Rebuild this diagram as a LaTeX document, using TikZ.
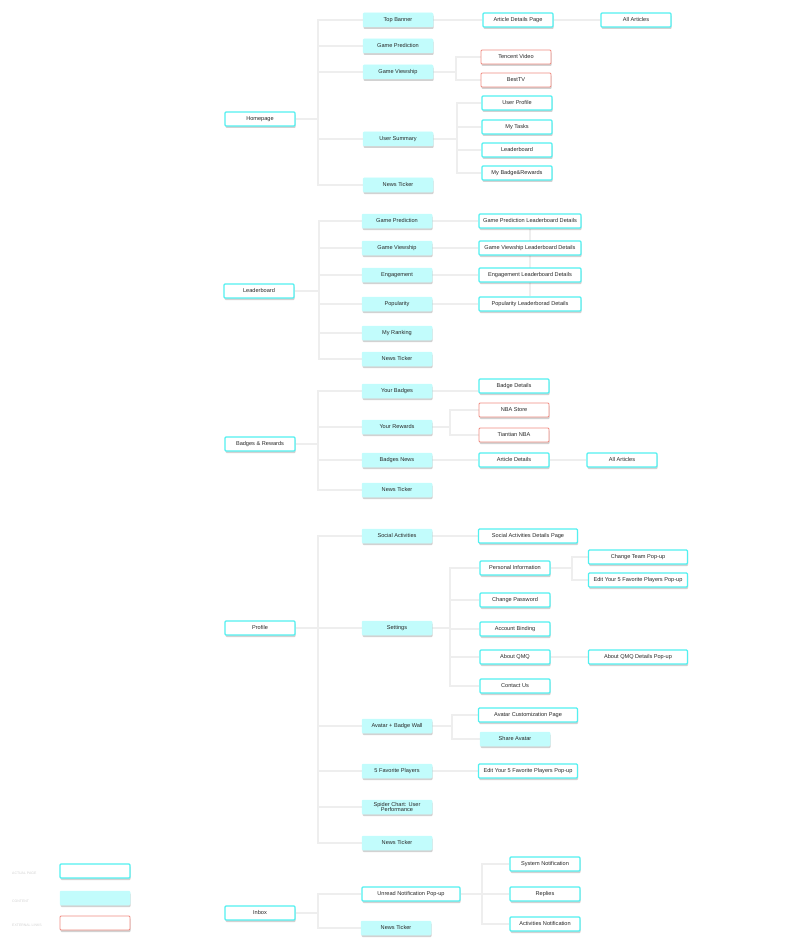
\documentclass[tikz,border=0pt]{standalone}
\usepackage{fontspec}
\setmainfont{Liberation Sans}
\usepackage{tikz}
\usetikzlibrary{positioning, calc, backgrounds, shadows}
\definecolor{pagecyan}{RGB}{82,240,240}
\definecolor{contentcyan}{RGB}{194,252,252}
\definecolor{extred}{RGB}{240,140,130}
\definecolor{linkgray}{RGB}{238,238,238}
\definecolor{txtgray}{RGB}{40,40,40}
\tikzset{
	basebox/.style={rounded corners=1pt, minimum height=14pt, minimum width=70pt, inner sep=1pt, text depth=0.6pt, font=\fontsize{5.6}{5.8}\selectfont, text=txtgray, align=center, drop shadow={shadow xshift=0.6pt, shadow yshift=-2pt, opacity=0.25, fill=black!70}},
	pagebox/.style={basebox, draw=pagecyan, line width=1.3pt, fill=white},
	contentbox/.style={basebox, draw=contentcyan, line width=0.5pt, fill=contentcyan},
	extbox/.style={basebox, draw=extred, line width=0.9pt, fill=white},
	linkline/.style={draw=linkgray, line width=2.2pt},
	legendtext/.style={font=\fontsize{3.5}{4}\selectfont, text=black!18, anchor=west, inner sep=0pt},
}

\begin{document}
\begin{tikzpicture}[x=1pt, y=-1pt]
	\useasboundingbox (0,0) rectangle (808,944);
	% Homepage branch
	\node[pagebox] (home) at (260,119) {Homepage};
	\node[contentbox] (hTop) at (398,20) {Top Banner};
	\node[contentbox] (hGP) at (398,46) {Game Prediction};
	\node[contentbox] (hGV) at (398,72) {Game Viewship};
	\node[contentbox] (hUS) at (398,139) {User Summary};
	\node[contentbox] (hNT) at (398,185) {News Ticker};
	\node[pagebox] (hADP) at (518,20) {Article Details Page};
	\node[pagebox] (hAll) at (636,20) {All Articles};
	\node[extbox] (hTen) at (516,57) {Tencent Video};
	\node[extbox] (hBest) at (516,80) {BestTV};
	\node[pagebox] (hUP) at (517,103) {User Profile};
	\node[pagebox] (hMT) at (517,127) {My Tasks};
	\node[pagebox] (hLB) at (517,150) {Leaderboard};
	\node[pagebox] (hMBR) at (517,173) {My Badge\&Rewards};
	% Leaderboard branch
	\node[pagebox] (lead) at (259,291) {Leaderboard};
	\node[contentbox] (lGP) at (397,221) {Game Prediction};
	\node[contentbox] (lGV) at (397,248) {Game Viewship};
	\node[contentbox] (lEng) at (397,275) {Engagement};
	\node[contentbox] (lPop) at (397,304) {Popularity};
	\node[contentbox] (lMR) at (397,333) {My Ranking};
	\node[contentbox] (lNT) at (397,359) {News Ticker};
	\node[pagebox, minimum width=102pt] (lGPD) at (530,221) {Game Prediction Leaderboard Details};
	\node[pagebox, minimum width=102pt] (lGVD) at (530,248) {Game Viewship Leaderboard Details};
	\node[pagebox, minimum width=102pt] (lEngD) at (530,275) {Engagement Leaderboard Details};
	\node[pagebox, minimum width=102pt] (lPopD) at (530,304) {Popularity Leaderborad Details};
	% Badges & Rewards branch
	\node[pagebox] (badge) at (260,444) {Badges \& Rewards};
	\node[contentbox] (bYB) at (397,391) {Your Badges};
	\node[contentbox] (bYR) at (397,427) {Your Rewards};
	\node[contentbox] (bBN) at (397,460) {Badges News};
	\node[contentbox] (bNT) at (397,490) {News Ticker};
	\node[pagebox] (bBD) at (514,386) {Badge Details};
	\node[extbox] (bStore) at (514,410) {NBA Store};
	\node[extbox] (bTian) at (514,435) {Tiantian NBA};
	\node[pagebox] (bAD) at (514,460) {Article Details};
	\node[pagebox] (bAll) at (622,460) {All Articles};
	% Profile branch
	\node[pagebox] (prof) at (260,628) {Profile};
	\node[contentbox] (pSA) at (397,536) {Social Activities};
	\node[contentbox] (pSet) at (397,628) {Settings};
	\node[contentbox] (pAv) at (397,726) {Avatar + Badge Wall};
	\node[contentbox] (pFav) at (397,771) {5 Favorite Players};
	\node[contentbox, text depth=0pt] (pSpi) at (397,807) {Spider Chart: User\\Performance};
	\node[contentbox] (pNT) at (397,843) {News Ticker};
	\node[pagebox, minimum width=99pt] (pSAD) at (528,536) {Social Activities Details Page};
	\node[pagebox] (pPI) at (515,568) {Personal Information};
	\node[pagebox, minimum width=99pt] (pCT) at (638,557) {Change Team Pop-up};
	\node[pagebox, minimum width=99pt] (pEdit) at (638,580) {Edit Your 5 Favorite Players Pop-up};
	\node[pagebox] (pCP) at (515,600) {Change Password};
	\node[pagebox] (pAB) at (515,629) {Account Binding};
	\node[pagebox] (pAQ) at (515,657) {About QMQ};
	\node[pagebox, minimum width=99pt] (pAQD) at (638,657) {About QMQ Details Pop-up};
	\node[pagebox] (pCU) at (515,686) {Contact Us};
	\node[pagebox, minimum width=99pt] (pACP) at (528,715) {Avatar Customization Page};
	\node[contentbox] (pShare) at (515,739) {Share Avatar};
	\node[pagebox, minimum width=99pt] (pEdit2) at (528,771) {Edit Your 5 Favorite Players Pop-up};
	% Inbox branch
	\node[pagebox] (inbox) at (260,913) {Inbox};
	\node[pagebox, minimum width=98pt] (iUn) at (411,894) {Unread Notification Pop-up};
	\node[contentbox] (iNT) at (396,928) {News Ticker};
	\node[pagebox] (iSys) at (545,864) {System Notification};
	\node[pagebox] (iRep) at (545,894) {Replies};
	\node[pagebox] (iAct) at (545,924) {Activities Notification};
	% Legend
	\node[pagebox] (legPage) at (95,871) {};
	\node[contentbox] (legCont) at (95,898) {};
	\node[extbox] (legExt) at (95,923) {};
	\node[legendtext] (legPageTxt) at (12,873) {ACTUAL PAGE};
	\node[legendtext] (legContTxt) at (12,901) {CONTENT};
	\node[legendtext] (legExtTxt) at (12,925) {EXTERNAL LINKS};
	% Connectors, kept behind the boxes
	\begin{pgfonlayer}{background}
		\foreach \c in {hTop, hGP, hGV, hUS, hNT}
			\draw[linkline] (home.east) -- ++(22,0) |- (\c.west);
		\draw[linkline] (hTop) -- (hADP) -- (hAll);
		\foreach \c in {hTen, hBest}
			\draw[linkline] (hGV.east) -- ++(23,0) |- (\c.west);
		\foreach \c in {hUP, hMT, hLB, hMBR}
			\draw[linkline] (hUS.east) -- ++(24,0) |- (\c.west);
		\foreach \c in {lGP, lGV, lEng, lPop, lMR, lNT}
			\draw[linkline] (lead.east) -- ++(24,0) |- (\c.west);
		\draw[linkline] (lGP) -- (lGPD);
		\draw[linkline] (lGV) -- (lGVD);
		\draw[linkline] (lEng) -- (lEngD);
		\draw[linkline] (lPop) -- (lPopD);
		\draw[linkline] (lGPD) -- (lPopD);
		\foreach \c in {bYB, bYR, bBN, bNT}
			\draw[linkline] (badge.east) -- ++(22,0) |- (\c.west);
		\draw[linkline] (bYB) -- (bYB -| bBD.west);
		\foreach \c in {bStore, bTian}
			\draw[linkline] (bYR.east) -- ++(18,0) |- (\c.west);
		\draw[linkline] (bBN) -- (bAD) -- (bAll);
		\foreach \c in {pSA, pSet, pAv, pFav, pSpi, pNT}
			\draw[linkline] (prof.east) -- ++(22,0) |- (\c.west);
		\draw[linkline] (pSA) -- (pSAD);
		\foreach \c in {pPI, pCP, pAB, pAQ, pCU}
			\draw[linkline] (pSet.east) -- ++(18,0) |- (\c.west);
		\foreach \c in {pCT, pEdit}
			\draw[linkline] (pPI.east) -- ++(21,0) |- (\c.west);
		\draw[linkline] (pAQ) -- (pAQD);
		\foreach \c in {pACP, pShare}
			\draw[linkline] (pAv.east) -- ++(20,0) |- (\c.west);
		\draw[linkline] (pFav) -- (pEdit2);
		\foreach \c in {iUn, iNT}
			\draw[linkline] (inbox.east) -- ++(22,0) |- (\c.west);
		\foreach \c in {iSys, iRep, iAct}
			\draw[linkline] (iUn.east) -- ++(21,0) |- (\c.west);
	\end{pgfonlayer}
\end{tikzpicture}
\end{document}
